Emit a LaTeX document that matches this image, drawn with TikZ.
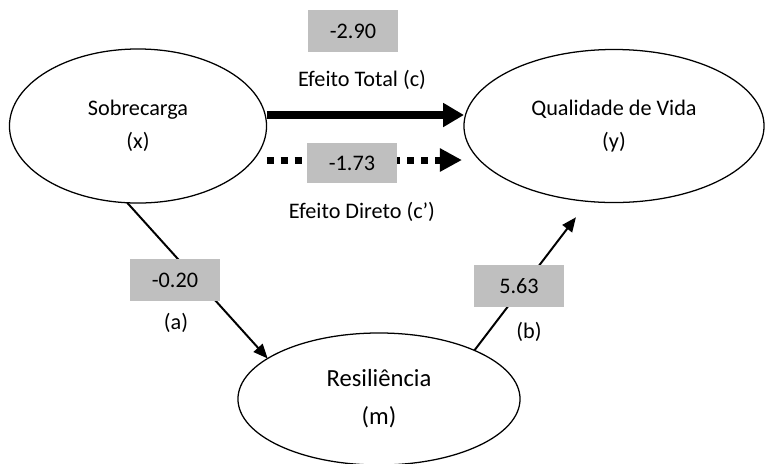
\documentclass[tikz,border=0pt]{standalone}
\usepackage{fontspec}
\setmainfont{Carlito}
\usetikzlibrary{shapes.geometric,arrows.meta}
\begin{document}
\begin{tikzpicture}
    [%%%%%%%%%%%%%%%%%%%%%%%%%%%%%%
        x=0.025cm, y=-0.025cm,
        latent/.style={ellipse,draw=black,line width=0.9pt,inner sep=0pt,outer sep=0pt,align=center,font=\fontsize{15.8}{23.5}\selectfont},
        coef/.style={rectangle,fill=black!25,minimum width=2.25cm,minimum height=1.05cm,inner sep=0pt,font=\fontsize{15.8}{19}\selectfont},
        lbl/.style={font=\fontsize{15.8}{19}\selectfont},
        total/.style={line width=5pt,-{Triangle[length=0.52cm,width=0.57cm]}},
        direct/.style={line width=5pt,dash pattern=on 5pt off 5pt,-{Triangle[length=0.55cm,width=0.55cm]}},
        med/.style={line width=1.4pt,-{Triangle[length=0.36cm,width=0.3cm]}},
    ]%%%%%%%%%%%%%%%%%%%%%%%%%%%%%%
    \useasboundingbox (0,0) rectangle (765,463);

    \node[latent, minimum width=6.425cm, minimum height=3.85cm] (sob) at (138,126) {Sobrecarga\\(x)};
    \node[latent, minimum width=7.5cm, minimum height=3.825cm] (qv) at (614,126) {Qualidade de Vida\\(y)};
    \node[latent, minimum width=7.05cm, minimum height=3.3cm, font=\fontsize{17.5}{27}\selectfont] (res) at (379,399) {Resiliência\\(m)};

    \draw[total] ([yshift=0.275cm]sob.east) -- ([yshift=0.275cm]qv.west);
    \draw[direct] ([yshift=-0.85cm]sob.east) -- ([yshift=-0.85cm,xshift=-0.05cm]qv.west);
    \draw[med] (sob.262) -- (res.160);
    \draw[med, shorten >=0.5cm] (res.27) -- (qv.251);

    \node[coef] (ctot) at (353,31) {-2.90};
    \node[coef, minimum height=1.0cm] (cdir) at (352,163) {-1.73};
    \node[coef] (ca) at (175,280) {-0.20};
    \node[coef] (cb) at (519,286) {5.63};

    \node[lbl] (ltot) at (362,80) {Efeito Total (c)};
    \node[lbl] (ldir) at (362,212) {Efeito Direto (c’)};
    \node[lbl] (la) at (176,323) {(a)};
    \node[lbl] (lb) at (529,332) {(b)};

\end{tikzpicture}
\end{document}
